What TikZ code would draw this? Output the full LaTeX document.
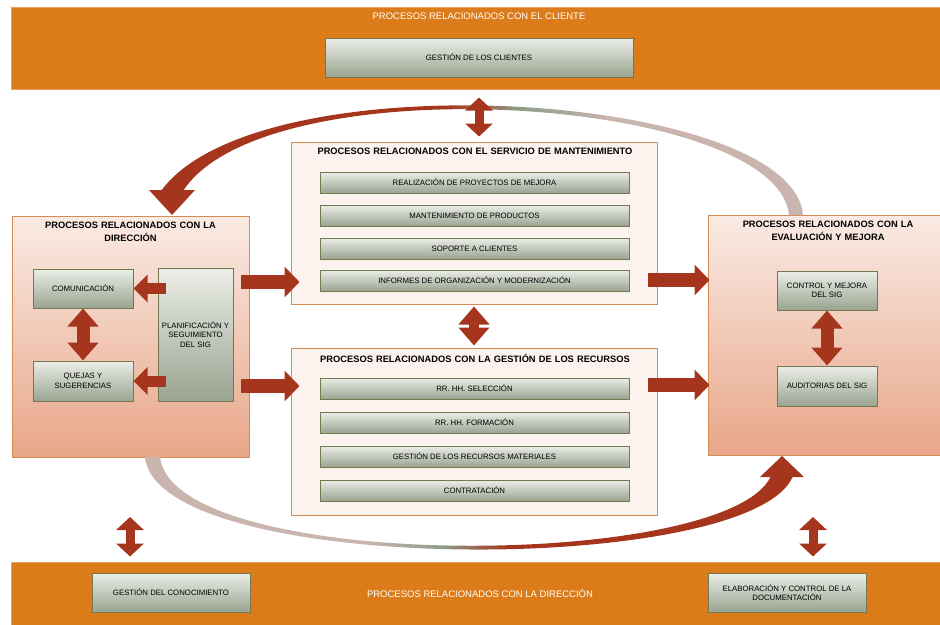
\documentclass[tikz,border=0pt]{standalone}
\usepackage{fontspec}
\setmainfont{Liberation Sans}
\usetikzlibrary{arrows.meta}
\definecolor{bandorange}{HTML}{DB7B1A}
\definecolor{bandedge}{HTML}{E9A060}
\definecolor{pinktop}{HTML}{FAEBE4}
\definecolor{pinkbot}{HTML}{E8A689}
\definecolor{cfill}{HTML}{FCF3EE}
\definecolor{boxedge}{HTML}{D58C52}
\definecolor{gtop}{HTML}{EBEEE7}
\definecolor{gbot}{HTML}{9AA491}
\definecolor{gborder}{HTML}{74784E}
\definecolor{arrred}{HTML}{A5351C}
\definecolor{greengray}{HTML}{8E9C88}
\definecolor{mauve}{HTML}{C9B4AE}
\pgfdeclarehorizontalshading{topcurve}{100bp}{color(0bp)=(arrred); color(25bp)=(arrred); color(47bp)=(arrred); color(53bp)=(greengray); color(60bp)=(mauve); color(100bp)=(mauve)}
\pgfdeclarehorizontalshading{botcurve}{100bp}{color(0bp)=(mauve); color(25bp)=(mauve); color(42bp)=(mauve); color(48bp)=(greengray); color(53bp)=(arrred); color(100bp)=(arrred)}
\begin{document}
\begin{tikzpicture}[x=1pt,y=-1pt,
  band/.style={fill=bandorange, draw=bandedge, line width=1pt},
  bandtitle/.style={text=white, font=\fontsize{9.5}{11}\selectfont},
  gbox/.style={draw=gborder, line width=1pt, top color=gtop, bottom color=gbot, align=center, font=\fontsize{7.8}{9.5}\selectfont, inner sep=1pt},
  bigbox/.style={draw=boxedge, line width=1pt, top color=pinktop, bottom color=pinkbot},
  cbox/.style={draw=boxedge, fill=cfill, line width=1pt},
  boxtitle/.style={font=\bfseries\fontsize{9.3}{13}\selectfont, align=center, text width=230},
  blk/.style={line width=14pt, draw=arrred, -{Triangle[width=30pt,length=15pt]}},
  sblk/.style={line width=11pt, draw=arrred, -{Triangle[width=27pt,length=14pt]}},
  dblk/.style={line width=13pt, draw=arrred, {Triangle[width=30pt,length=18pt]}-{Triangle[width=30pt,length=18pt]}},
  sdblk/.style={line width=9pt, draw=arrred, {Triangle[width=27pt,length=13pt]}-{Triangle[width=27pt,length=13pt]}}
]
\useasboundingbox (0,0) rectangle (940,624);
% bands
\node[band, minimum width=930, minimum height=82, inner sep=0] (topband) at (476,48) {};
\node[bandtitle] (toptitle) at (479,16) {PROCESOS RELACIONADOS CON EL CLIENTE};
\node[gbox, minimum width=308, minimum height=39] (gclientes) at (479,57.5) {GESTIÓN DE LOS CLIENTES};
\node[band, minimum width=930, minimum height=64, inner sep=0] (botband) at (476,594) {};
\node[bandtitle] (bottitle) at (480,593) {PROCESOS RELACIONADOS CON LA DIRECCIÓN};
\node[gbox, minimum width=158, minimum height=39] (gconoc) at (171,592.5) {GESTIÓN DEL CONOCIMIENTO};
\node[gbox, minimum width=158, minimum height=39] (gdoc) at (787,592.5) {ELABORACIÓN Y CONTROL DE LA\\DOCUMENTACIÓN};
% left box
\node[bigbox, minimum width=237, minimum height=241, inner sep=0] (leftbox) at (130.5,336.5) {};
\node[boxtitle] (lefttitle) at (130.5,232) {PROCESOS RELACIONADOS CON LA\\DIRECCIÓN};
\node[gbox, minimum width=100, minimum height=39] (comun) at (83,288.5) {COMUNICACIÓN};
\node[gbox, minimum width=100, minimum height=40] (quejas) at (83,381) {QUEJAS Y\\SUGERENCIAS};
\node[gbox, minimum width=75, minimum height=133] (planif) at (195.5,334.5) {PLANIFICACIÓN Y\\SEGUIMIENTO\\DEL SIG};
% right box
\node[bigbox, minimum width=232, minimum height=240, inner sep=0] (rightbox) at (824,335) {};
\node[boxtitle] (righttitle) at (828,231) {PROCESOS RELACIONADOS CON LA\\EVALUACIÓN Y MEJORA};
\node[gbox, minimum width=100, minimum height=39] (control) at (827,290.5) {CONTROL Y MEJORA\\DEL SIG};
\node[gbox, minimum width=100, minimum height=40] (audit) at (827,386) {AUDITORIAS DEL SIG};
% center top
\node[cbox, minimum width=366, minimum height=162, inner sep=0] (ctop) at (474,223) {};
\node[boxtitle, text width=360] (ctoptitle) at (475,151) {PROCESOS RELACIONADOS CON EL SERVICIO DE MANTENIMIENTO};
\node[gbox, minimum width=309, minimum height=21] (m1) at (474.5,182.5) {REALIZACIÓN DE PROYECTOS DE MEJORA};
\node[gbox, minimum width=309, minimum height=21] (m2) at (474.5,215.5) {MANTENIMIENTO DE PRODUCTOS};
\node[gbox, minimum width=309, minimum height=21] (m3) at (474.5,248.5) {SOPORTE A CLIENTES};
\node[gbox, minimum width=309, minimum height=21] (m4) at (474.5,280.5) {INFORMES DE ORGANIZACIÓN Y MODERNIZACIÓN};
% center bottom
\node[cbox, minimum width=366, minimum height=167, inner sep=0] (cbot) at (474,431.5) {};
\node[boxtitle, text width=360] (cbottitle) at (475,358) {PROCESOS RELACIONADOS CON LA GESTIÓN DE LOS RECURSOS};
\node[gbox, minimum width=309, minimum height=21] (r1) at (474.5,388.5) {RR. HH. SELECCIÓN};
\node[gbox, minimum width=309, minimum height=21] (r2) at (474.5,422.5) {RR. HH. FORMACIÓN};
\node[gbox, minimum width=309, minimum height=21] (r3) at (474.5,456.5) {GESTIÓN DE LOS RECURSOS MATERIALES};
\node[gbox, minimum width=309, minimum height=21] (r4) at (474.5,490.5) {CONTRATACIÓN};
% curved arrows
\shade[shading=topcurve] (803,215) .. controls (793,92) and (258,57) .. (161,191)
  -- (183,191) .. controls (266,63) and (777,96) .. (789,215) -- cycle;
\fill[arrred] (149,190) -- (195,190) -- (172,215) -- cycle;
\shade[shading=botcurve] (145,457) .. controls (157,577) and (752,577) .. (793,476)
  -- (771,476) .. controls (728,571) and (173,573) .. (160,457) -- cycle;
\fill[arrred] (760,477) -- (804,477) -- (782,456) -- cycle;
% straight arrows
\draw[sblk] ([xshift=8]planif.west |- comun.east) -- (comun.east);
\draw[sblk] ([xshift=8]planif.west |- quejas.east) -- (quejas.east);
\draw[dblk] (comun.south) -- (quejas.north);
\draw[dblk] (control.south) -- (audit.north);
\coordinate (la1) at (241,282);
\coordinate (la2) at (241,386);
\draw[blk] (la1) -- ([xshift=9]la1 -| ctop.west);
\draw[blk] (la2) -- ([xshift=9]la2 -| cbot.west);
\coordinate (ra1) at (648,280);
\coordinate (ra2) at (648,385);
\draw[blk] (ra1) -- ([xshift=2]ra1 -| rightbox.west);
\draw[blk] (ra2) -- ([xshift=2]ra2 -| rightbox.west);
\draw[sdblk] ([yshift=-8]topband.south -| gclientes) -- ([yshift=5]ctop.north -| gclientes);
\draw[dblk, line width=10pt] ([yshift=-2]ctop.south) -- ([yshift=2]cbot.north);
\coordinate (bl1) at (130,517);
\coordinate (bl2) at (813,517);
\draw[sdblk] (bl1) -- ([yshift=5]bl1 |- botband.north);
\draw[sdblk] (bl2) -- ([yshift=5]bl2 |- botband.north);
\end{tikzpicture}
\end{document}
